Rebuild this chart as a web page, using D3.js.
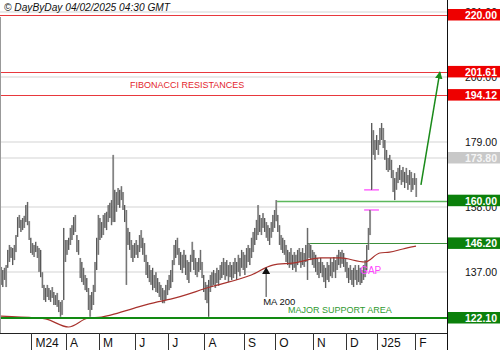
<!DOCTYPE html>
<html>
<head>
<meta charset="utf-8">
<script src="https://cdn.jsdelivr.net/npm/d3@7"></script>
<style>
  body { margin: 0; background: #fff; }
  svg { display: block; font-family: "Liberation Sans", Arial, sans-serif; }
</style>
</head>
<body>
<div id="chart"></div>
<script>
// ---- data ----
const monthLabels = ["M24", "A", "M", "J", "J", "A", "S", "O", "N", "D", "J25", "F"]
const monthStart = [19, 40, 60, 82, 102, 124, 148, 167, 190, 210, 229, 252] // bar index of first session

// daily highs / lows, Feb 2024 -> Feb 2025
const barHigh = [
  // Feb
  138.6,137.6,138.3,139.2,144.1,145.7,145.0,144.7,145.7,148.9,154.7,155.4,153.8,154.4,155.1,158.6,159.6,153.4,148.0,
  // Mar
  146.3,145.7,146.7,145.4,144.7,144.1,136.9,132.8,131.8,132.8,131.8,131.1,132.1,130.5,129.5,130.2,127.9,127.3,127.9,151.2,147.3,
  // Apr
  147.3,148.0,151.2,152.1,154.7,155.4,148.9,147.3,141.5,140.2,138.3,136.0,135.0,131.8,129.5,130.5,132.8,140.2,148.0,155.4,
  // May
  154.4,153.1,155.4,156.0,156.4,158.6,159.3,160.2,174.8,163.5,162.8,164.1,163.5,164.7,162.8,158.6,157.0,151.2,149.9,147.3,145.7,146.3,
  // Jun
  147.3,145.7,148.9,150.5,148.0,146.3,142.5,140.2,139.2,137.6,138.3,136.0,136.9,135.0,133.7,132.8,131.8,131.1,132.8,134.4,
  // Jul
  136.0,137.6,140.8,145.7,147.3,148.0,144.7,143.4,142.5,144.1,142.5,140.8,140.2,142.5,146.7,144.1,141.5,140.2,141.5,144.1,140.2,136.0,
  // Aug
  133.7,132.8,134.4,136.0,136.9,137.6,136.6,138.3,137.6,139.2,140.2,141.5,140.2,140.8,139.2,140.2,139.2,140.2,141.5,140.2,142.5,141.5,144.1,143.4,
  // Sep
  142.5,144.7,145.7,144.7,148.0,149.9,151.2,153.8,158.6,155.4,154.4,156.0,154.4,153.1,152.1,151.2,153.1,155.4,157.0,
  // Oct
  160.2,155.4,152.1,148.9,148.0,147.3,145.7,144.1,143.4,144.7,142.5,143.4,142.5,144.1,144.7,143.4,144.7,143.1,145.7,151.2,146.3,145.7,144.1,
  // Nov
  143.4,142.5,141.5,140.2,141.5,140.2,139.2,138.3,140.2,139.2,141.5,140.2,141.8,140.8,142.5,144.1,143.4,144.1,143.1,141.5,
  // Dec
  140.2,138.3,139.2,137.6,138.3,139.2,137.6,139.2,138.3,137.6,139.2,140.8,145.7,151.2,157.0,185.1,182.8,179.6,181.2,
  // Jan
  179.6,183.5,185.1,183.5,179.6,176.4,173.8,174.8,173.2,169.9,167.3,169.3,170.6,171.5,169.9,170.9,169.3,170.6,168.3,169.9,169.3,167.3,168.9,
  // Feb
  167.3
]
const barLow = [
  // Feb
  132.8,132.1,134.4,132.1,138.3,140.2,141.5,139.2,140.8,143.4,148.3,151.2,149.9,150.5,151.2,153.1,152.1,147.3,143.1,
  // Mar
  142.5,141.8,143.4,141.5,137.0,135.3,131.8,127.9,127.3,128.9,127.9,127.3,128.6,126.3,126.3,125.7,124.0,122.5,123.1,127.9,140.2,
  // Apr
  142.5,144.1,145.7,147.3,148.9,149.9,143.4,142.5,135.0,133.7,132.8,131.1,130.5,124.7,122.5,124.7,126.3,130.5,137.6,142.5,
  // May
  147.3,148.0,148.9,151.2,150.5,153.1,154.4,152.1,153.1,153.1,156.4,158.6,157.7,160.2,157.0,153.1,132.8,145.7,144.1,141.5,140.2,141.5,
  // Jun
  142.5,141.5,143.4,144.7,142.5,140.2,136.0,135.0,133.7,132.8,131.1,131.8,130.5,130.2,128.9,127.9,126.9,126.9,127.9,129.5,
  // Jul
  131.1,131.8,133.7,139.2,141.5,142.5,139.2,137.6,136.6,138.3,136.0,134.4,133.4,137.0,140.2,137.6,136.0,135.3,137.0,137.6,135.0,130.5,
  // Aug
  127.9,126.9,122.5,130.5,132.1,132.8,131.8,133.4,132.5,134.4,135.0,136.0,134.4,135.6,133.7,135.3,134.4,135.0,136.3,134.4,137.0,135.6,138.3,137.6,
  // Sep
  136.0,138.3,140.2,139.2,141.5,143.4,145.7,147.3,148.9,149.9,148.9,151.2,149.9,148.0,147.0,145.7,148.0,149.9,151.2,
  // Oct
  153.4,149.9,145.7,144.1,143.1,142.5,140.2,139.2,138.3,139.2,137.6,138.3,137.0,139.2,140.2,138.3,139.2,138.6,140.2,134.4,141.5,140.8,139.2,
  // Nov
  138.3,137.0,136.0,135.0,136.6,135.3,133.7,131.8,134.4,133.7,135.6,135.0,137.0,135.0,137.6,139.2,138.3,139.6,138.6,137.0,
  // Dec
  135.0,133.4,134.4,132.8,132.1,134.4,132.8,133.7,132.8,133.4,134.4,135.3,137.6,144.1,148.9,163.5,174.8,173.2,176.4,
  // Jan
  174.8,178.0,179.6,177.0,173.2,169.9,169.3,169.9,167.3,162.8,160.2,163.5,165.7,166.7,165.1,166.0,164.1,165.7,163.5,165.1,162.8,163.5,165.1,
  // Feb
  161.2
]

// 200 day moving average (bar index / value)
const maIndex = [0, 21, 27, 41, 53, 61, 67, 81, 95, 103, 127, 152, 165, 178, 194, 206, 221, 230, 236, 244, 252]
const maValue = [122.7, 122.1, 121.8, 119.2, 122.1, 122.4, 123.1, 125.3, 127.3, 128.2, 132.1, 136.0, 139.2, 139.9, 141.5, 141.5, 140.2, 143.1, 143.4, 144.4, 145.3]

const yTicks = [137, 158, 179, 200, 221]
const resistances = [220.00, 201.61, 194.12]
const supports = [160.00, 146.20]
const supportStart = [167, 186]   // bar where each support line begins
const majorSupport = 122.10
const refLevel = 173.80
const gapLevels = [157.0, 163.5]
const gapBars = [220.5, 229.5]
const maNote = [161, 138.6, 128.9] // bar, arrow tip, arrow foot
const target = [[255, 165.1], [266.5, 201.61]]

// ---- layout ----
const width = 500, height = 350
const plotRight = 447, plotBottom = 333

const svg = d3.select("#chart").append("svg")
  .attr("width", width)
  .attr("height", height)

const x = d3.scaleLinear().domain([0, barHigh.length - 1]).range([1, 416])
const y = d3.scaleLinear().domain([majorSupport, 220]).range([318, 15])

svg.append("clipPath").attr("id", "plot")
  .append("rect").attr("x", 0).attr("y", 0).attr("width", plotRight).attr("height", plotBottom)

const plot = svg.append("g").attr("clip-path", "url(#plot)")

// grid
plot.selectAll(".grid")
  .data(yTicks.concat([refLevel]))
  .enter().append("line")
  .attr("x1", 0).attr("x2", plotRight)
  .attr("y1", d => y(d)).attr("y2", d => y(d))
  .attr("stroke", "#e2e2e2")
  .attr("stroke-width", 1.5)

// left frame
svg.append("line")
  .attr("x1", 0.5).attr("x2", 0.5).attr("y1", 17).attr("y2", plotBottom)
  .attr("stroke", "#999")

// resistance lines
plot.selectAll(".res")
  .data(resistances)
  .enter().append("line")
  .attr("x1", 0).attr("x2", plotRight)
  .attr("y1", d => Math.round(y(d)) + 0.5).attr("y2", d => Math.round(y(d)) + 0.5)
  .attr("stroke", "#e8383d")

// support lines
plot.selectAll(".sup")
  .data(supports)
  .enter().append("line")
  .attr("x1", (d, i) => x(supportStart[i])).attr("x2", plotRight)
  .attr("y1", d => Math.round(y(d)) + 0.5).attr("y2", d => Math.round(y(d)) + 0.5)
  .attr("stroke", (d, i) => i == 0 ? "#5cb85c" : "#3a8f3a")
  .attr("stroke-width", (d, i) => i == 0 ? 1.5 : 1)

// gap markers
plot.selectAll(".gap")
  .data(gapLevels)
  .enter().append("line")
  .attr("x1", x(gapBars[0])).attr("x2", x(gapBars[1]))
  .attr("y1", d => y(d)).attr("y2", d => y(d))
  .attr("stroke", "#ff66ff")
  .attr("stroke-width", 1.5)

// bars
const bars = plot.append("g")
bars.selectAll(".shade")
  .data(barHigh)
  .enter().append("line")
  .attr("x1", (d, i) => x(i) + 0.6).attr("x2", (d, i) => x(i) + 0.6)
  .attr("y1", d => y(d)).attr("y2", (d, i) => y(barLow[i]))
  .attr("stroke", "#b4b4b4")
  .attr("stroke-width", 1.2)
bars.selectAll(".bar")
  .data(barHigh)
  .enter().append("line")
  .attr("x1", (d, i) => x(i)).attr("x2", (d, i) => x(i))
  .attr("y1", d => y(d)).attr("y2", (d, i) => y(barLow[i]))
  .attr("stroke", "#333")
  .attr("stroke-width", 0.8)

// moving average
const maLine = d3.line()
  .x(d => x(d[0]))
  .y(d => y(d[1]))
  .curve(d3.curveMonotoneX)
plot.append("path")
  .datum(maIndex.map((d, i) => [d, maValue[i]]))
  .attr("d", maLine)
  .attr("fill", "none")
  .attr("stroke", "#a8322d")
  .attr("stroke-width", 1.2)

// major support
plot.append("line")
  .attr("x1", 0).attr("x2", plotRight)
  .attr("y1", y(majorSupport)).attr("y2", y(majorSupport))
  .attr("stroke", "#128a12")
  .attr("stroke-width", 2)

// target arrow
svg.append("defs").append("marker")
  .attr("id", "head")
  .attr("viewBox", "0 0 10 10")
  .attr("refX", 9).attr("refY", 5)
  .attr("markerWidth", 5).attr("markerHeight", 5)
  .attr("orient", "auto")
  .append("path").attr("d", "M0,0 L10,5 L0,10 z").attr("fill", "#1a8a1a")
svg.append("line")
  .attr("x1", x(target[0][0])).attr("y1", y(target[0][1]))
  .attr("x2", x(target[1][0])).attr("y2", y(target[1][1]))
  .attr("stroke", "#1a8a1a")
  .attr("stroke-width", 1.5)
  .attr("marker-end", "url(#head)")

// MA 200 note
const mx = x(maNote[0])
svg.append("line")
  .attr("x1", mx).attr("x2", mx)
  .attr("y1", y(maNote[1]) + 5).attr("y2", y(maNote[2]))
  .attr("stroke", "#333")
svg.append("path")
  .attr("d", `M${mx},${y(maNote[1])} l-4,7 l8,0 z`)
  .attr("fill", "#111")
svg.append("text")
  .attr("x", mx - 3).attr("y", y(maNote[2]) + 8)
  .attr("font-size", 9.5)
  .attr("fill", "#111")
  .text("MA 200")

// annotations
svg.append("text")
  .attr("x", 130).attr("y", 88)
  .attr("font-size", 9)
  .attr("fill", "#e3262d")
  .text("FIBONACCI RESISTANCES")
svg.append("text")
  .attr("x", 288).attr("y", 313)
  .attr("font-size", 9)
  .attr("fill", "#2f9a2f")
  .text("MAJOR SUPPORT AREA")
svg.append("text")
  .attr("x", x(gapBars[0]) - 4).attr("y", 274)
  .attr("font-size", 10)
  .attr("fill", "#ff44ff")
  .text("GAP")

// header
svg.append("text")
  .attr("x", 4).attr("y", 11)
  .attr("font-size", 10.2)
  .attr("font-style", "italic")
  .attr("fill", "#111")
  .text("\u00a9 DayByDay 04/02/2025 04:30 GMT")

// right axis (labels partly hidden by the level boxes, as in the original)
const yAxis = svg.append("g")
  .attr("transform", `translate(${plotRight},0)`)
  .call(d3.axisRight(y).tickValues(yTicks).tickSize(0).tickFormat(d3.format(".2f")))
yAxis.select(".domain").remove()
yAxis.selectAll("text")
  .attr("x", 50)
  .attr("text-anchor", "end")
  .attr("font-size", 10.5)
  .attr("font-family", "Liberation Sans, Arial, sans-serif")
  .attr("fill", "#111")

// boxed level labels
const boxes = resistances.map(v => [v, "#ee0000", "#fff"])
  .concat([refLevel].map(v => [v, "#c8c8c8", "#f5f5f5"]))
  .concat(supports.concat([majorSupport]).map(v => [v, "#0b800b", "#fff"]))
const box = svg.selectAll(".box").data(boxes).enter().append("g")
box.append("rect")
  .attr("x", plotRight + 1).attr("width", width - plotRight - 1)
  .attr("y", d => y(d[0]) - 6).attr("height", 11.5)
  .attr("fill", d => d[1])
box.append("text")
  .attr("x", 497).attr("y", d => y(d[0]) + 4)
  .attr("text-anchor", "end")
  .attr("font-size", 10.5)
  .attr("font-weight", "bold")
  .attr("fill", d => d[2])
  .text(d => d3.format(".2f")(d[0]))

// axis frame
svg.append("line")
  .attr("x1", plotRight + 0.5).attr("x2", plotRight + 0.5).attr("y1", 0).attr("y2", height)
  .attr("stroke", "#111")
svg.append("line")
  .attr("x1", 0).attr("x2", plotRight).attr("y1", plotBottom + 0.5).attr("y2", plotBottom + 0.5)
  .attr("stroke", "#222")

// month axis
const months = svg.selectAll(".month").data(monthStart).enter().append("g")
months.append("line")
  .attr("x1", d => Math.round(x(d - 0.5)) + 0.5).attr("x2", d => Math.round(x(d - 0.5)) + 0.5)
  .attr("y1", plotBottom).attr("y2", height)
  .attr("stroke", "#333")
months.append("text")
  .attr("x", d => x(d - 0.5) + 4).attr("y", 347)
  .attr("font-size", 12)
  .attr("fill", "#111")
  .text((d, i) => monthLabels[i])
</script>
</body>
</html>
